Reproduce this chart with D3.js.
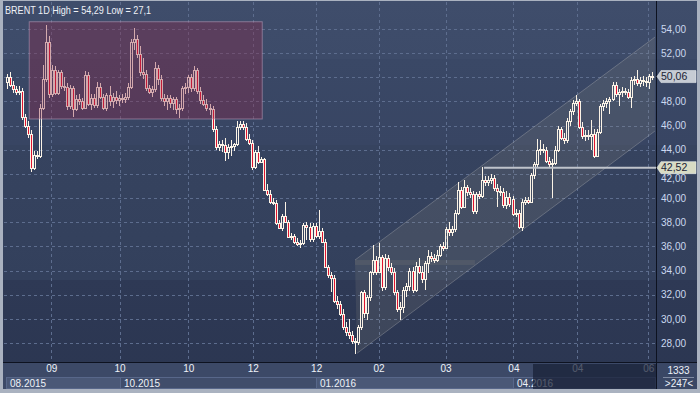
<!DOCTYPE html>
<html><head><meta charset="utf-8">
<script src="https://cdnjs.cloudflare.com/ajax/libs/d3/7.8.5/d3.min.js"></script>
<style>html,body{margin:0;padding:0;background:#aab2c0;}svg{display:block;font-family:"Liberation Sans",Arial,sans-serif;}</style>
</head><body><svg id="c" width="700" height="393"></svg>
<script>
// ---- data (BRENT daily candles, Aug 2015 - Jun 2016) ----
const opens = [49.6,50.0,49.4,49.0,48.8,48.9,46.7,46.0,45.3,42.5,43.6,43.5,47.5,49.9,52.9,48.6,50.6,48.7,50.4,49.3,49.2,47.6,49.1,47.4,48.2,48.0,47.5,50.2,47.8,48.3,47.7,49.2,48.4,47.5,48.5,48.0,48.4,48.1,48.3,48.2,48.4,49.2,52.9,53.2,51.9,50.4,50.3,49.1,48.8,49.0,50.8,49.9,48.3,48.0,48.3,47.9,48.2,47.4,47.5,49.1,49.2,50.0,49.1,50.6,48.9,48.1,47.8,47.5,47.4,45.7,44.2,44.5,44.4,43.8,44.2,44.3,44.5,45.9,46.1,45.9,44.9,44.6,42.6,43.8,43.0,43.2,40.7,40.3,39.7,39.6,37.9,37.5,38.5,38.0,36.8,36.9,36.4,36.2,36.3,37.8,37.6,36.6,37.7,36.9,37.3,36.4,34.3,33.6,33.4,31.5,31.2,30.4,29.3,28.9,28.7,28.2,28.1,29.3,32.2,30.5,31.8,33.9,34.9,33.9,35.1,32.6,35.0,34.3,33.9,32.2,30.8,31.0,32.4,32.7,34.0,32.4,34.4,33.9,33.3,34.6,35.2,35.0,34.9,35.3,36.0,35.9,37.4,37.2,37.4,38.8,40.7,39.3,40.9,40.5,40.3,38.9,40.3,40.2,41.5,41.3,41.5,41.7,40.8,40.6,40.5,39.4,40.1,39.9,38.7,38.8,37.6,39.7,39.8,39.7,41.9,42.8,44.0,44.1,44.0,43.1,42.8,42.9,44.0,45.7,45.0,44.8,46.4,47.2,47.9,48.0,45.9,45.1,45.2,45.1,45.3,43.5,45.5,47.6,47.9,48.0,48.2,49.4,48.6,48.8,48.9,48.8,48.4,49.8,49.9,49.5,49.8,49.7,49.6,50.1];
const highs = [50.3,50.4,49.7,49.3,49.3,49.1,47.0,46.4,45.6,43.9,43.9,47.8,51.0,54.29,53.4,51.0,50.9,50.6,50.6,50.0,49.5,49.4,49.3,48.5,48.6,48.3,50.5,50.4,48.6,48.6,49.6,49.5,48.6,48.7,49.3,48.7,48.9,48.5,48.6,48.7,49.5,53.2,54.05,53.5,52.6,51.6,50.6,49.4,49.3,51.3,51.0,50.2,48.6,48.5,48.5,48.4,48.4,47.8,49.3,49.5,50.2,50.3,50.9,50.8,49.2,48.5,48.2,47.8,47.6,46.0,44.7,44.8,45.0,44.5,44.8,44.6,46.4,46.4,46.4,46.2,45.3,44.8,44.0,44.3,43.4,43.3,41.2,40.7,40.0,39.8,38.2,38.7,39.7,38.2,37.1,37.0,36.7,36.5,37.9,38.0,37.9,37.9,37.9,39.0,37.5,36.6,34.5,33.9,33.6,31.9,31.5,30.8,29.7,30.0,29.0,28.4,29.5,32.3,32.4,32.0,34.0,36.1,35.2,36.3,35.3,35.4,35.3,34.6,34.2,32.4,31.4,32.6,33.0,34.2,34.3,34.7,35.0,34.4,34.8,35.7,35.5,35.4,35.7,36.2,36.4,37.6,38.0,37.7,39.0,41.3,40.9,41.5,41.1,40.8,40.6,40.5,40.6,42.6,41.8,41.8,42.0,41.9,41.2,41.0,40.8,40.6,40.4,40.2,39.1,39.0,39.9,40.1,40.1,42.1,43.0,44.9,44.8,44.5,44.2,43.4,43.2,44.3,46.0,45.9,45.4,46.6,47.4,48.1,48.5,48.2,46.3,45.6,45.6,46.5,45.7,45.7,47.8,48.1,48.3,48.4,49.6,49.6,49.0,49.2,49.1,49.0,50.0,50.1,50.6,50.0,50.1,50.0,50.3,50.4];
const lows = [49.0,49.2,48.7,48.5,48.5,46.5,45.8,45.0,42.2,42.3,43.2,43.3,47.3,49.6,48.3,48.4,48.5,48.5,49.0,48.9,47.3,47.4,46.7,47.2,47.7,47.3,47.4,47.6,47.3,47.5,47.5,48.2,47.3,47.2,47.6,47.5,47.8,47.6,47.9,47.9,48.1,49.0,52.3,51.6,50.1,49.9,48.9,48.6,48.4,48.8,49.4,48.0,47.6,47.3,47.5,47.3,47.0,46.6,47.2,48.6,48.7,48.8,48.9,48.6,47.8,47.6,47.2,46.9,45.5,44.0,43.9,43.8,43.1,43.2,43.5,43.9,44.3,45.6,45.6,44.7,44.4,42.3,42.4,42.8,42.9,40.6,40.2,39.5,39.4,37.8,37.4,37.3,37.9,36.7,36.5,36.2,36.0,35.9,36.1,36.5,36.4,36.4,36.7,36.6,36.3,34.2,33.4,32.2,31.3,30.8,30.2,29.1,28.6,28.3,27.9,27.1,27.8,29.1,30.1,29.9,31.5,33.6,33.6,33.8,32.3,32.4,34.0,33.6,32.0,30.6,29.9,30.5,31.8,32.3,32.1,32.2,33.7,33.0,32.4,33.8,34.7,34.6,34.7,35.1,35.6,35.8,36.9,36.9,37.2,38.6,39.1,39.2,40.2,40.0,38.7,38.7,39.9,40.0,41.0,41.0,41.2,40.6,39.3,40.2,39.2,39.1,39.3,38.5,38.4,37.4,37.3,39.4,39.5,39.6,41.6,42.5,43.6,43.7,42.9,42.5,40.0,42.7,43.8,44.8,44.5,44.6,46.0,46.9,47.6,45.7,44.9,44.7,44.8,44.0,43.3,43.4,45.3,47.2,47.5,47.0,48.0,48.4,47.6,48.4,48.5,48.2,47.5,49.4,49.3,49.2,49.3,49.2,49.0,49.8];
const closes = [50.0,49.4,49.0,48.8,48.9,46.7,46.0,45.3,42.5,43.6,43.5,47.5,49.9,52.9,48.6,50.6,48.7,50.4,49.3,49.2,47.6,49.1,47.4,48.2,48.0,47.5,50.2,47.8,48.3,47.7,49.2,48.4,47.5,48.5,48.0,48.4,48.1,48.3,48.2,48.4,49.2,52.9,53.2,51.9,50.4,50.3,49.1,48.8,49.0,50.8,49.9,48.3,48.0,48.3,47.9,48.2,47.4,47.5,49.1,49.2,50.0,49.1,50.6,48.9,48.1,47.8,47.5,47.4,45.7,44.2,44.5,44.4,43.8,44.2,44.3,44.5,45.9,46.1,45.9,44.9,44.6,42.6,43.8,43.0,43.2,40.7,40.3,39.7,39.6,37.9,37.5,38.5,38.0,36.8,36.9,36.4,36.2,36.3,37.8,37.6,36.6,37.7,36.9,37.3,36.4,34.3,33.6,33.4,31.5,31.2,30.4,29.3,28.9,28.7,28.2,28.1,29.3,32.2,30.5,31.8,33.9,34.9,33.9,35.1,32.6,35.0,34.3,33.9,32.2,30.8,31.0,32.4,32.7,34.0,32.4,34.4,33.9,33.3,34.6,35.2,35.0,34.9,35.3,36.0,35.9,37.4,37.2,37.4,38.8,40.7,39.3,40.9,40.5,40.3,38.9,40.3,40.2,41.5,41.3,41.5,41.7,40.8,40.6,40.5,39.4,40.1,39.5,38.7,38.8,37.6,39.7,39.8,39.7,41.9,42.8,44.0,44.1,44.0,43.1,42.8,42.9,44.0,45.7,45.0,44.8,46.4,47.2,47.9,48.0,45.9,45.1,45.2,45.1,45.3,43.5,45.5,47.6,47.9,48.0,48.2,49.4,48.6,48.8,48.9,48.8,48.4,49.8,49.9,49.5,49.8,49.7,49.6,50.1,50.06];

const priceTicks = [28,30,32,34,36,38,40,42,44,46,48,50,52,54];
const timeTickIdx = [14.8,37.3,60.0,81.3,102.2,122.8,144.9,167.3,188.4,211.8];
const timeTickLabels = ["09","10","10","12","12","02","03","04","04","06"];
const periodStartIdx = [-0.2,37.3,102.2,167.3];
const periodLabels = ["08.2015","10.2015","01.2016","04.2016"];
const periodEndIdx = 214.0;
const title = "BRENT 1D High = 54,29 Low = 27,1";
// annotations (bar index / price)
const boxIdx = [7.5,84.4], boxPrice = [54.6,46.55];
const channelUpper = [[115.0,34.87],[214.0,53.33]];
const channelLower = [[115.7,27.15],[214.0,45.55]];
const shelf = [[115.0,154.6],[34.87,34.46]];
const levelLine = {fromIdx:157.6, price:42.52};
const lastPrice = 50.06;
const countTop = "1333", countBottom = ">247<";

const N = closes.length;
const svg = d3.select("#c");
const plotL = 4, plotR = 656, plotT = 2, plotB = 362;
const x = d3.scaleLinear().domain([0, N-1]).range([6.5, 651.9]);
const y = d3.scaleLinear().domain([28, 54]).range([343, 29]);
const fmt = v => v.toFixed(2).replace(".", ",");

const defs = svg.append("defs");
const gr = defs.append("linearGradient").attr("id","bg").attr("x1",0).attr("y1",0).attr("x2",0).attr("y2",1);
[[0,"#3f4d6b"],[0.15,"#3d4b69"],[0.15,"#3a4866"],[0.37,"#384563"],[0.37,"#36435f"],[0.72,"#33405c"],[0.72,"#2e3955"],[1,"#2b3651"]]
  .forEach(s=>gr.append("stop").attr("offset",s[0]).attr("stop-color",s[1]));
defs.append("clipPath").attr("id","clip").append("rect").attr("x",plotL).attr("y",plotT).attr("width",plotR-plotL).attr("height",plotB-plotT);

// frame + background
svg.append("rect").attr("width",700).attr("height",393).attr("fill","#aab2c0");
svg.append("rect").attr("x",3).attr("y",1).attr("width",694).attr("height",388).attr("fill","url(#bg)");

const plot = svg.append("g").attr("clip-path","url(#clip)");
// grid
plot.selectAll(".hg").data(priceTicks).join("line")
  .attr("x1",plotL).attr("x2",plotR).attr("y1",d=>Math.round(y(d))+0.5).attr("y2",d=>Math.round(y(d))+0.5)
  .attr("stroke","#5d6d8e").attr("stroke-dasharray","3,3");
plot.selectAll(".vg").data(timeTickIdx).join("line")
  .attr("y1",plotT).attr("y2",plotB).attr("x1",d=>Math.round(x(d))+0.5).attr("x2",d=>Math.round(x(d))+0.5)
  .attr("stroke","#5d6d8e").attr("stroke-dasharray","3,3");

// channel
const chPoly = [channelUpper[0],channelUpper[1],channelLower[1],channelLower[0]].map(p=>[x(p[0]),y(p[1])]);
plot.append("path").attr("d","M"+chPoly.join("L")+"Z").attr("fill","rgba(170,165,140,0.14)");
plot.append("rect").attr("x",x(shelf[0][0])).attr("width",x(shelf[0][1])-x(shelf[0][0]))
  .attr("y",y(shelf[1][0])).attr("height",y(shelf[1][1])-y(shelf[1][0])).attr("fill","rgba(170,165,140,0.13)");
[channelUpper,channelLower].forEach(l=>{
  plot.append("line").attr("x1",x(l[0][0])).attr("y1",y(l[0][1])).attr("x2",x(l[1][0])).attr("y2",y(l[1][1]))
    .attr("stroke","rgba(200,200,200,0.3)").attr("stroke-width",1);
});

// candles
const idx = d3.range(N);
const cg = plot.append("g");
idx.forEach(i=>{
  const cx = Math.round(x(i)) + 0.5;
  const o = opens[i], c = closes[i];
  const top = Math.round(y(Math.max(o,c))), bot = Math.max(Math.round(y(Math.min(o,c))), top+1);
  const wc = "#fbf3e6";
  cg.append("line").attr("x1",cx).attr("x2",cx).attr("y1",Math.round(y(highs[i]))).attr("y2",top).attr("stroke",wc);
  cg.append("line").attr("x1",cx).attr("x2",cx).attr("y1",bot).attr("y2",Math.round(y(lows[i]))).attr("stroke",wc);
  cg.append("rect").attr("x",cx-1).attr("width",2).attr("y",top+0.5).attr("height",bot-top)
    .attr("fill", c<o ? "#e01430" : "none").attr("stroke",wc).attr("stroke-width",1);
});

// highlight box
plot.append("rect").attr("x",x(boxIdx[0])).attr("width",x(boxIdx[1])-x(boxIdx[0]))
  .attr("y",y(boxPrice[0])).attr("height",y(boxPrice[1])-y(boxPrice[0]))
  .attr("fill","rgba(140,40,72,0.36)").attr("stroke","rgba(190,160,190,0.55)").attr("stroke-width",1);

// level line
plot.append("line").attr("x1",x(levelLine.fromIdx)).attr("x2",plotR).attr("y1",y(levelLine.price)).attr("y2",y(levelLine.price))
  .attr("stroke","#bfc3cb").attr("stroke-width",2);

// title
svg.append("text").attr("x",5).attr("y",13.5).attr("fill","#eef1f7").attr("font-size",11.5)
  .attr("textLength",146).attr("lengthAdjust","spacingAndGlyphs").text(title);

// frame lines
svg.append("line").attr("x1",plotR+0.5).attr("x2",plotR+0.5).attr("y1",1).attr("y2",389).attr("stroke","#0d1220");
svg.append("line").attr("x1",3).attr("x2",697).attr("y1",plotB+0.5).attr("y2",plotB+0.5).attr("stroke","#0d1220");

// right axis (the tick label fully hidden under the last-price tag is not drawn)
const ya = svg.append("g").attr("transform",`translate(${plotR+4},0)`)
  .call(d3.axisRight(y).tickValues(priceTicks)
    .tickFormat(v => Math.abs(v - lastPrice) < 0.5 ? "" : fmt(v)).tickSize(0).tickPadding(1));
ya.select(".domain").remove();
ya.selectAll("text").attr("fill","#cbd8ef").attr("font-size",10).attr("font-family","Liberation Sans, Arial, sans-serif");
// label partly covered by the level tag: nudge it just below the tag
ya.selectAll(".tick").filter(v => Math.abs(v - levelLine.price) < 1).select("text").attr("y",4.5);

// price labels
function priceTag(v, fill){
  const yy = y(v);
  const g = svg.append("g");
  g.append("path").attr("d",`M${plotR+1},${yy} L${plotR+5},${yy-6} L696,${yy-6} L696,${yy+6} L${plotR+5},${yy+6} Z`)
    .attr("fill",fill).attr("stroke","#e8ecf0").attr("stroke-width",0.6);
  g.append("text").attr("x",plotR+5).attr("y",yy+3.8).attr("fill","#1b2233").attr("font-size",10.5).text(fmt(v));
}
priceTag(lastPrice,"#c6cbd4");
priceTag(levelLine.price,"#d8dbc4");

// bottom time axis
svg.append("rect").attr("x",3).attr("y",plotB+1).attr("width",plotR-3).attr("height",26).attr("fill","#3c4967");
svg.append("rect").attr("x",plotR+1).attr("y",plotB+1).attr("width",697-plotR-1).attr("height",26).attr("fill","#3a4765");
periodStartIdx.forEach((s,i)=>{
  const e = i<periodStartIdx.length-1 ? periodStartIdx[i+1] : periodEndIdx;
  const x0 = Math.round(x(s))+0.5, x1 = Math.min(Math.round(x(e))+0.5, plotR-0.5);
  svg.append("rect").attr("x",x0).attr("y",377.5).attr("width",x1-x0).attr("height",11)
    .attr("fill", i%2===0 ? "#4a5877" : "#404d6b").attr("stroke","#58678a").attr("stroke-width",1);
  svg.append("text").attr("x",x0+3.5).attr("y",386.5).attr("fill","#eef2f8").attr("font-size",10).text(periodLabels[i]);
});
const xa = svg.append("g").attr("transform",`translate(0,${plotB+3})`)
  .call(d3.axisBottom(x).tickValues(timeTickIdx).tickFormat((d,i)=>timeTickLabels[i]).tickSize(0).tickPadding(0));
xa.select(".domain").remove();
xa.selectAll("text").attr("fill","#eef2f8").attr("font-size",10).attr("dy","0.71em").attr("font-family","Liberation Sans, Arial, sans-serif");
// scroll thumb overlay
svg.append("rect").attr("x",533).attr("y",plotB+2).attr("width",plotR-533).attr("height",25).attr("fill","rgba(24,32,54,0.72)");

// counter
svg.append("text").attr("x",678.5).attr("y",374).attr("text-anchor","middle").attr("fill","#eef2f8").attr("font-size",10).text(countTop);
svg.append("line").attr("x1",663).attr("x2",694).attr("y1",377.5).attr("y2",377.5).attr("stroke","#7f8aa2");
svg.append("text").attr("x",679).attr("y",386.5).attr("text-anchor","middle").attr("fill","#eef2f8").attr("font-size",10).text(countBottom);
</script></body></html>
